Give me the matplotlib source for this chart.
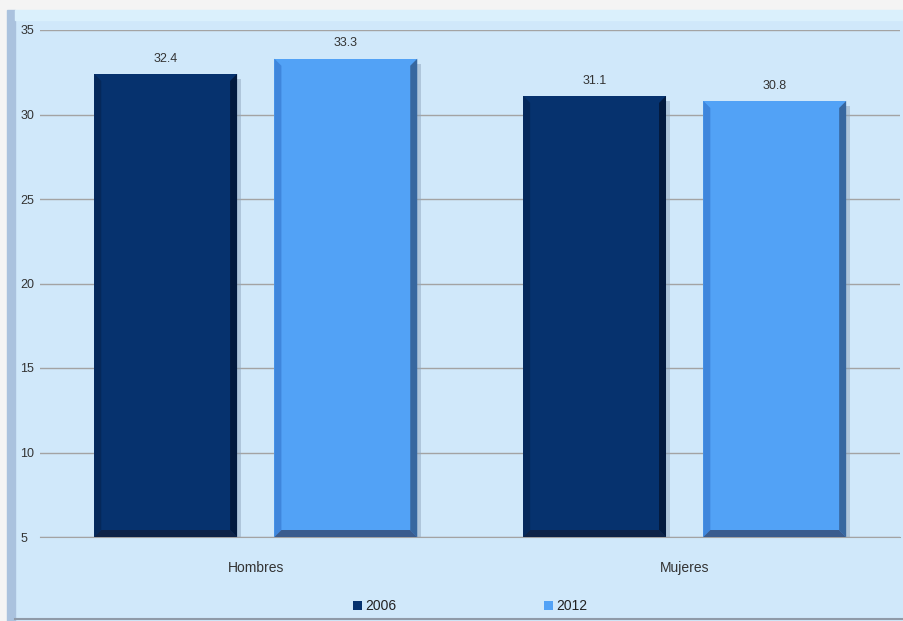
import matplotlib.pyplot as plt
from matplotlib.patches import Polygon, Rectangle

categories = ['Hombres', 'Mujeres']
years = ['2006', '2012']
values_2006 = [32.4, 31.1]
values_2012 = [33.3, 30.8]
yticks = [5, 10, 15, 20, 25, 30, 35]

face = {'2006': '#06326E', '2012': '#52A2F6'}
left_c = {'2006': '#05285A', '2012': '#3F86DC'}
right_c = {'2006': '#031A3E', '2012': '#37679F'}
bottom_c = {'2006': '#0E2347', '2012': '#3A5C8E'}

plt.rcParams['font.family'] = ['Liberation Sans', 'DejaVu Sans']

fig = plt.figure(figsize=(9.04, 6.21), dpi=100, facecolor='#D0E8FA')

# outer frame pieces
fig.patches.append(Rectangle((0, 0.984), 1, 0.016, transform=fig.transFigure,
                             color='#F4F4F4', zorder=0))
fig.patches.append(Rectangle((0, 0), 0.008, 1, transform=fig.transFigure,
                             color='#F4F4F4', zorder=0))
fig.patches.append(Rectangle((0.008, 0), 0.009, 0.984, transform=fig.transFigure,
                             color='#AAC2DE', zorder=0))
fig.patches.append(Rectangle((0.017, 0.968), 0.983, 0.016, transform=fig.transFigure,
                             color='#DAF0FC', zorder=0))

ax = fig.add_axes([40 / 904, 1 - 537 / 621, 860 / 904, (537 - 30) / 621])
ax.set_facecolor('none')
ax.set_ylim(5, 35)
ax.set_xlim(-0.503, 1.502)

w = 0.333
off = 0.21
xs = range(len(categories))
ax_px_x = 860 / 2.005  # pixels per x unit
ax_px_y = 507 / 30     # pixels per y unit
bev = 7


def bevel_bar(rect, year):
    x0 = rect.get_x()
    x1 = x0 + rect.get_width()
    y0 = 5
    y1 = rect.get_height() + rect.get_y()
    bx = bev / ax_px_x
    by = bev / ax_px_y
    tops = [
        ([(x0, y0), (x0 + bx, y0 + by), (x0 + bx, y1 - by), (x0, y1)], left_c[year]),
        ([(x1, y0), (x1 - bx, y0 + by), (x1 - bx, y1 - by), (x1, y1)], right_c[year]),
        ([(x0, y0), (x1, y0), (x1 - bx, y0 + by), (x0 + bx, y0 + by)], bottom_c[year]),
    ]
    for pts, c in tops:
        ax.add_patch(Polygon(pts, closed=True, color=c, zorder=3, lw=0))
    # soft shadow on the right side
    ax.add_patch(Rectangle((x1, y0), 4 / ax_px_x, y1 - y0 - 0.3, color='#8FA6BE',
                           alpha=0.5, zorder=2, lw=0))


for vals, yr, sgn in [(values_2006, '2006', -1), (values_2012, '2012', 1)]:
    pos = [x + sgn * off for x in xs]
    bars = ax.bar(pos, [v - 5 for v in vals], w, bottom=5, color=face[yr],
                  zorder=2, label=yr)
    for b, v in zip(bars, vals):
        bevel_bar(b, yr)
        ax.text(b.get_x() + b.get_width() / 2, v + 0.55, f'{v:.1f}',
                ha='center', va='bottom', fontsize=9, color='#333333')

ax.set_yticks(yticks)
ax.yaxis.grid(True, color='#A3A3A3', lw=1)
ax.set_axisbelow(True)
ax.tick_params(axis='y', length=0, labelsize=9, labelcolor='#333333', pad=14)
for lab in ax.get_yticklabels():
    lab.set_horizontalalignment('left')
ax.set_xticks(list(xs))
ax.set_xticklabels(categories)
ax.tick_params(axis='x', length=0, labelsize=10, labelcolor='#333333', pad=17)
for s in ['left', 'right', 'top']:
    ax.spines[s].set_visible(False)
ax.spines['bottom'].set_color('#A3A3A3')

ax.legend(loc='lower center', bbox_to_anchor=(0.5, -0.175), ncol=2, frameon=False,
          fontsize=10, handlelength=0.7, handleheight=0.7, handletextpad=0.2,
          columnspacing=10.6, labelcolor='#222222')

# bottom frame line
fig.add_artist(plt.Line2D([0.017, 1], [0.003, 0.003], color='#8F9AA8', lw=1.5))

fig.savefig('out.png', dpi=100, facecolor=fig.get_facecolor())
